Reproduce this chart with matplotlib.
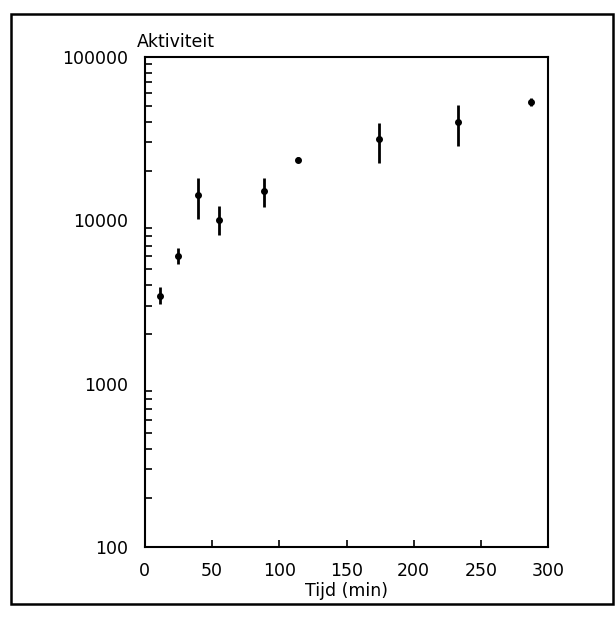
import numpy as np
import matplotlib.pyplot as plt
from matplotlib.patches import Rectangle
from matplotlib.ticker import LogLocator, NullFormatter, FixedLocator

# data
tijd = [11, 25, 39.5, 55, 89, 114, 174, 233, 287]
activiteit = [3440, 6050, 14300, 10100, 15100, 23500, 31200, 40000, 53000]
err_hi = [3900, 6800, 18200, 12200, 18200, 24300, 39400, 50500, 56200]
err_lo = [3080, 5400, 10200, 8100, 12000, 22800, 22500, 28600, 50000]

x_ticks = [0, 50, 100, 150, 200, 250, 300]
y_ticks = [100, 1000, 10000, 100000]

plt.rcParams["font.family"] = ["DejaVu Sans"]

fig = plt.figure(figsize=(6.16, 6.18), dpi=100)
ax = fig.add_axes([0.235, 0.115, 0.655, 0.793])

act = np.array(activiteit)
yerr = [act - np.array(err_lo), np.array(err_hi) - act]
ax.errorbar(tijd, activiteit, yerr=yerr, fmt="o", color="black",
            markersize=4, elinewidth=2, capsize=0)

ax.set_yscale("log")
ax.set_xlim(0, 300)
ax.set_ylim(100, 100000)

ax.xaxis.set_major_locator(FixedLocator(x_ticks))
ax.set_xticklabels([str(t) for t in x_ticks])
ax.yaxis.set_major_locator(FixedLocator(y_ticks))
ax.set_yticklabels([str(t) for t in y_ticks])
ax.yaxis.set_minor_locator(LogLocator(base=10, subs=np.arange(2, 10)))
ax.yaxis.set_minor_formatter(NullFormatter())

ax.tick_params(axis="both", which="both", direction="in", labelsize=12.5,
               top=False, right=False, width=1.2)
ax.tick_params(axis="x", which="major", length=5, pad=11)
ax.tick_params(axis="y", which="major", length=0, pad=12)
ax.tick_params(axis="y", which="minor", length=5)
for s in ax.spines.values():
    s.set_linewidth(1.5)

ax.set_xlabel("Tijd (min)", fontsize=12.5, labelpad=1)
ax.text(-0.02, 1.012, "Aktiviteit", transform=ax.transAxes, fontsize=12.5,
        ha="left", va="bottom")

fig.patches.append(Rectangle((0.018, 0.022), 0.977, 0.955, transform=fig.transFigure,
                             fill=False, edgecolor="black", linewidth=1.8))

fig.savefig("out.png", dpi=100)
